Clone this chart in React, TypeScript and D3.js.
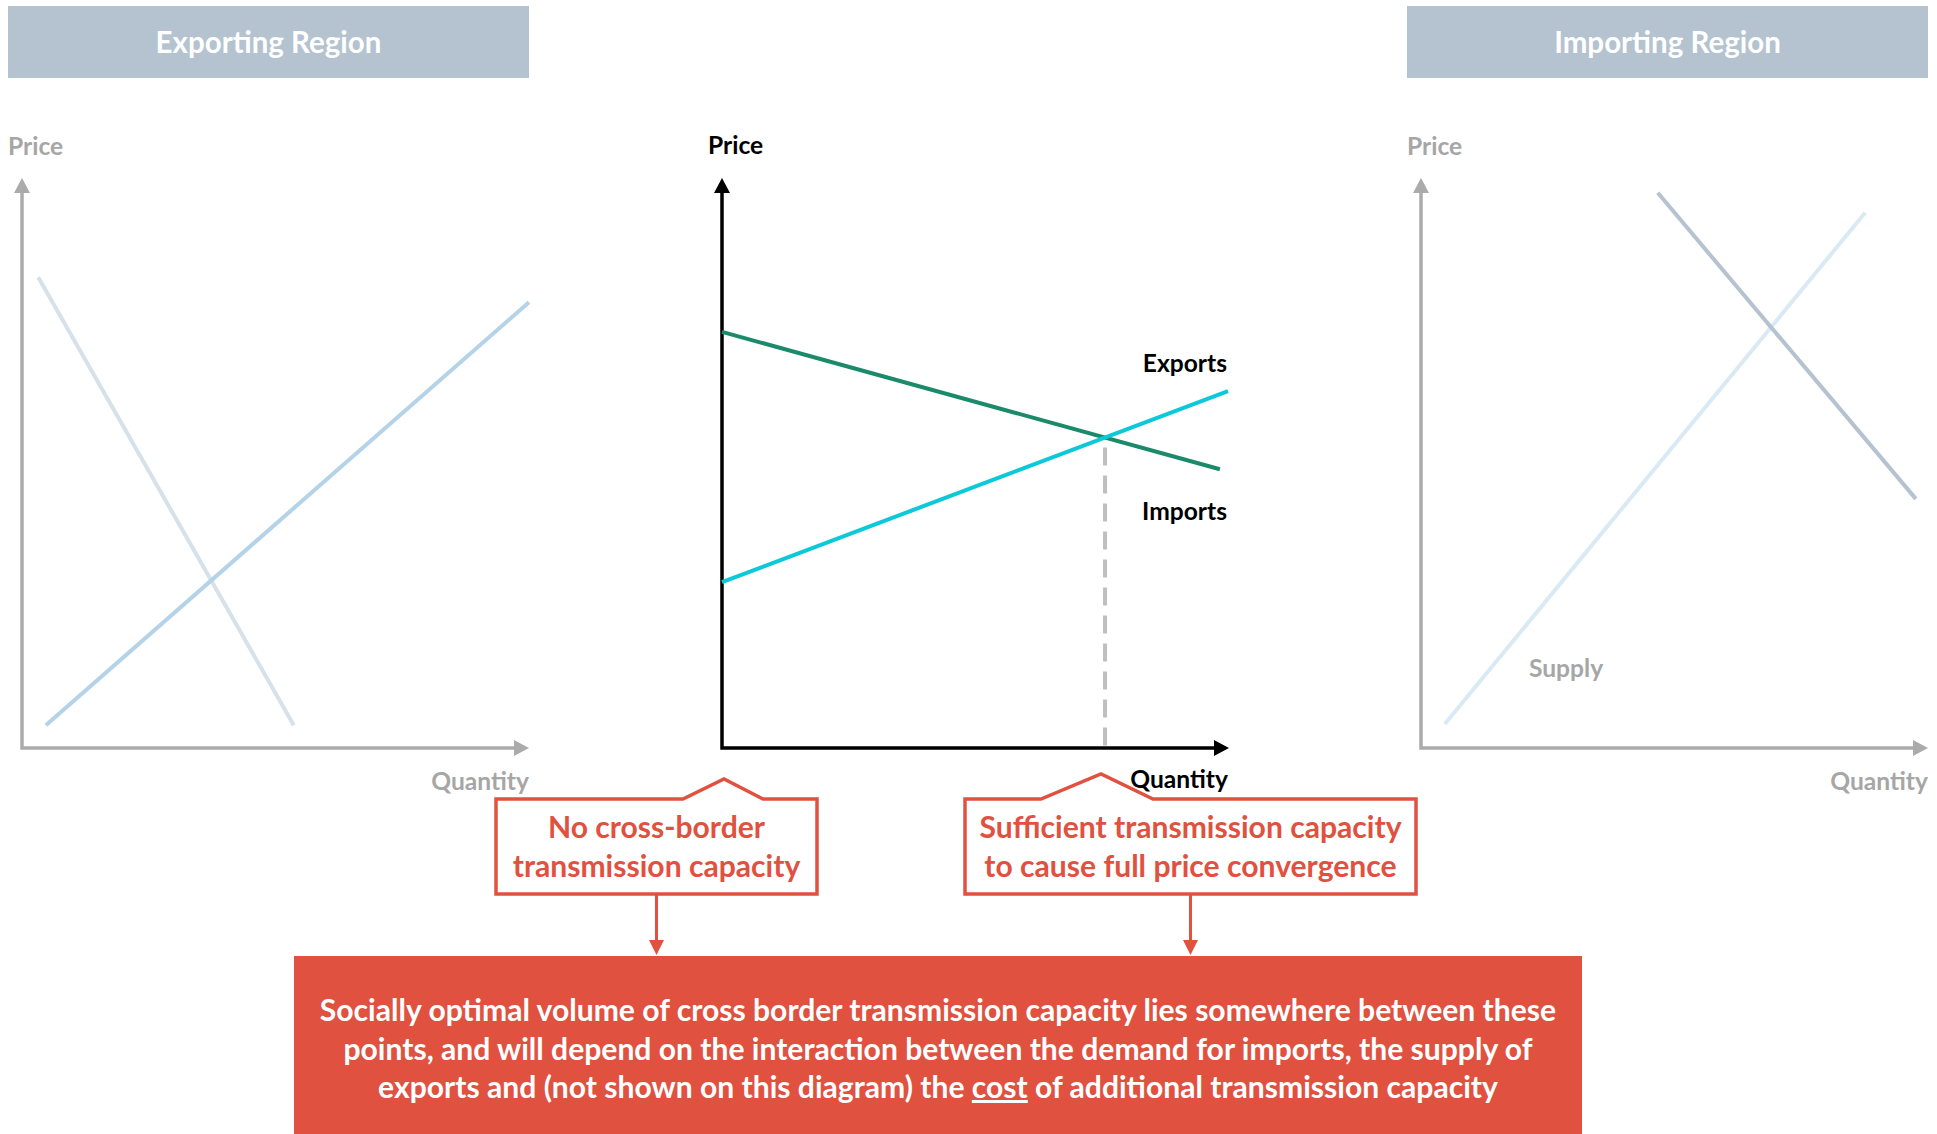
import React from "react";
import * as d3 from "d3";

const W = 1937;
const H = 1134;

// Region headers
const regionTitles = ["Exporting Region", "Importing Region"];
const priceLabel = "Price";
const quantityLabel = "Quantity";

// Curves as [quantity, price] pairs on a 0–100 scale per panel
const exportRegionDemand: [number, number][] = [[3.2, 82.6], [53.6, 4.0]];
const exportRegionSupply: [number, number][] = [[4.7, 4.0], [100, 78.2]];
const exportsCurve: [number, number][] = [[0, 73.0], [98.2, 48.9]];
const importsCurve: [number, number][] = [[0, 29.1], [99.8, 62.6]];
const importRegionDemand: [number, number][] = [[46.7, 97.4], [97.6, 43.7]];
const importRegionSupply: [number, number][] = [[4.7, 4.2], [87.6, 93.9]];

const curveLabels = ["Exports", "Imports", "Supply"];

const calloutLeft = ["No cross-border", "transmission capacity"];
const calloutRight = ["Sufficient transmission capacity", "to cause full price convergence"];
const summaryLines = [
  "Socially optimal volume of cross border transmission capacity lies somewhere between these",
  "points, and will depend on the interaction between the demand for imports, the supply of",
];
const summaryLast = ["exports and (not shown on this diagram) the ", "cost", " of additional transmission capacity"];

const FONT = "Lato, 'Open Sans', sans-serif";
const RED = "#E05140";
const HEADER = "#B4C3CF";
const GRAY_AXIS = "#ABABAB";
const GRAY_TEXT = "#A6A6A6";
const SMALL = 24.6;
const BIG = 30.1;

const Y0 = 748;
const YTOP = 178;
const PANEL_W = 507;

function makeScales(ox: number) {
  const x = d3.scaleLinear().domain([0, 100]).range([ox, ox + PANEL_W]);
  const y = d3.scaleLinear().domain([0, 100]).range([Y0, YTOP]);
  return { x, y };
}

function Axes({ ox, color }: { ox: number; color: string }) {
  const { x, y } = makeScales(ox);
  const x0 = x(0);
  const xEnd = x(100);
  const yTop = y(100);
  return (
    <g>
      <path d={`M${x0},${yTop + 12}V${Y0}H${xEnd - 12}`} fill="none" stroke={color} strokeWidth={3.5} />
      <path d={`M${x0},${yTop}L${x0 - 8},${yTop + 15}L${x0 + 8},${yTop + 15}Z`} fill={color} />
      <path d={`M${xEnd},${Y0}L${xEnd - 15},${Y0 - 8}L${xEnd - 15},${Y0 + 8}Z`} fill={color} />
    </g>
  );
}

function Curve({ ox, data, color, width }: { ox: number; data: [number, number][]; color: string; width: number }) {
  const { x, y } = makeScales(ox);
  const line = d3.line<[number, number]>().x((d) => x(d[0])).y((d) => y(d[1]));
  return <path d={line(data) || ""} fill="none" stroke={color} strokeWidth={width} />;
}

function Callout({ left, right, top, bottom, baseL, baseR, peakX, peakY, lines, arrowTo }: any) {
  const cx = (left + right) / 2;
  const d = `M${left},${bottom}V${top}H${baseL}L${peakX},${peakY}L${baseR},${top}H${right}V${bottom}Z`;
  return (
    <g>
      <path d={d} fill="#fff" stroke={RED} strokeWidth={3.5} strokeLinejoin="miter" />
      {lines.map((t: string, i: number) => (
        <text key={i} x={cx} y={838 + i * 39} textAnchor="middle" fill={RED} fontFamily={FONT} fontWeight={700} fontSize={BIG}>
          {t}
        </text>
      ))}
      <line x1={cx} y1={bottom} x2={cx} y2={arrowTo - 12} stroke={RED} strokeWidth={3} />
      <path d={`M${cx},${arrowTo}L${cx - 7.5},${arrowTo - 15}L${cx + 7.5},${arrowTo - 15}Z`} fill={RED} />
    </g>
  );
}

export default function App() {
  const left = makeScales(22);
  const mid = makeScales(722);
  const right = makeScales(1421);

  // Where the exports and imports curves meet
  const [e0, e1] = exportsCurve;
  const [i0, i1] = importsCurve;
  const se = (e1[1] - e0[1]) / (e1[0] - e0[0]);
  const si = (i1[1] - i0[1]) / (i1[0] - i0[0]);
  const qx = (i0[1] - e0[1] + se * e0[0] - si * i0[0]) / (se - si);
  const px = e0[1] + se * (qx - e0[0]);

  return (
    <svg width={W} height={H} style={{ position: "absolute", left: 0, top: 0, background: "#fff" }}>
      {/* Region headers */}
      <rect x={8} y={6} width={521} height={72} fill={HEADER} />
      <text x={268.5} y={53} textAnchor="middle" fill="#fff" fontFamily={FONT} fontWeight={700} fontSize={29.5}>
        {regionTitles[0]}
      </text>
      <rect x={1407} y={6} width={521} height={72} fill={HEADER} />
      <text x={1667.5} y={53} textAnchor="middle" fill="#fff" fontFamily={FONT} fontWeight={700} fontSize={29.5}>
        {regionTitles[1]}
      </text>

      {/* Exporting region */}
      <text x={8} y={155} fill={GRAY_TEXT} fontFamily={FONT} fontWeight={700} fontSize={SMALL}>{priceLabel}</text>
      <Axes ox={22} color={GRAY_AXIS} />
      <Curve ox={22} data={exportRegionDemand} color="#D6E1EA" width={4} />
      <Curve ox={22} data={exportRegionSupply} color="#B4D3E8" width={4} />
      <text x={left.x(100)} y={790} textAnchor="end" fill={GRAY_TEXT} fontFamily={FONT} fontWeight={700} fontSize={SMALL}>{quantityLabel}</text>

      {/* Cross-border market */}
      <text x={708} y={154} fill="#000" fontFamily={FONT} fontWeight={700} fontSize={SMALL}>{priceLabel}</text>
      <line x1={mid.x(qx)} y1={mid.y(px) + 10} x2={mid.x(qx)} y2={Y0} stroke="#BFBFBF" strokeWidth={4} strokeDasharray="18 10" />
      <Axes ox={722} color="#000" />
      <Curve ox={722} data={exportsCurve} color="#1B8A6A" width={4} />
      <Curve ox={722} data={importsCurve} color="#0BC9D9" width={4} />
      <text x={1227} y={372} textAnchor="end" fill="#000" fontFamily={FONT} fontWeight={700} fontSize={SMALL}>{curveLabels[0]}</text>
      <text x={1227} y={520} textAnchor="end" fill="#000" fontFamily={FONT} fontWeight={700} fontSize={SMALL}>{curveLabels[1]}</text>
      <text x={mid.x(100) - 1} y={788} textAnchor="end" fill="#000" fontFamily={FONT} fontWeight={700} fontSize={SMALL}>{quantityLabel}</text>

      {/* Importing region */}
      <text x={1407} y={155} fill={GRAY_TEXT} fontFamily={FONT} fontWeight={700} fontSize={SMALL}>{priceLabel}</text>
      <Axes ox={1421} color={GRAY_AXIS} />
      <Curve ox={1421} data={importRegionSupply} color="#DAEAF5" width={4} />
      <Curve ox={1421} data={importRegionDemand} color={HEADER} width={4} />
      <text x={right.x(21.3)} y={677} fill={GRAY_TEXT} fontFamily={FONT} fontWeight={700} fontSize={SMALL}>{curveLabels[2]}</text>
      <text x={right.x(100)} y={790} textAnchor="end" fill={GRAY_TEXT} fontFamily={FONT} fontWeight={700} fontSize={SMALL}>{quantityLabel}</text>

      {/* Callouts */}
      <Callout left={496} right={817} top={799} bottom={894} baseL={683} baseR={763} peakX={724} peakY={779} lines={calloutLeft} arrowTo={955} />
      <Callout left={965} right={1416} top={799} bottom={894} baseL={1041} baseR={1153} peakX={1101} peakY={774} lines={calloutRight} arrowTo={955} />

      {/* Summary */}
      <rect x={294} y={956} width={1288} height={H - 956} fill={RED} />
      {summaryLines.map((t, i) => (
        <text key={i} x={938} y={1021 + i * 38.5} textAnchor="middle" fill="#fff" fontFamily={FONT} fontWeight={700} fontSize={BIG}>
          {t}
        </text>
      ))}
      <text x={938} y={1098} textAnchor="middle" fill="#fff" fontFamily={FONT} fontWeight={700} fontSize={BIG}>
        {summaryLast[0]}
        <tspan textDecoration="underline" style={{ textDecoration: "underline" }}>{summaryLast[1]}</tspan>
        {summaryLast[2]}
      </text>
    </svg>
  );
}
